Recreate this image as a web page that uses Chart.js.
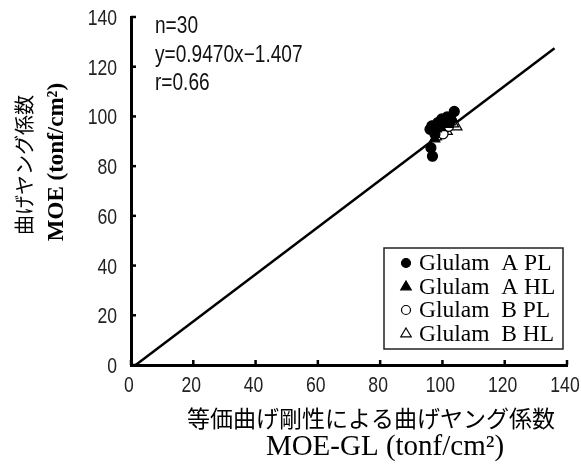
<!DOCTYPE html>
<html lang="ja">
<head>
<meta charset="utf-8">
<title>MOE vs MOE-GL</title>
<script src="https://cdn.jsdelivr.net/npm/chart.js"></script>
<style>
  html, body { margin: 0; padding: 0; background: #fff; }
  canvas { display: block; }
</style>
</head>
<body>
<canvas id="moeChart" width="581" height="465"></canvas>
<script>
// values: [MOE-GL, MOE]
const seriesNames = ['Glulam  A PL', 'Glulam  A HL', 'Glulam  B PL', 'Glulam  B HL'];
const glulamAPL = [[103.8, 102], [101.5, 99.8], [99.8, 99], [102.8, 98.5], [98.5, 97.5],
                   [96.6, 96.2], [96, 94.8], [97.6, 92.8], [96.3, 87.4], [96.8, 84]];
const glulamAHL = [[100.5, 97.5], [101.8, 96.8], [99.5, 95.5], [103, 99.5], [98, 95],
                   [97.5, 91], [100.8, 98.8], [102.5, 97.8]];
const glulamBPL = [[98.6, 96.2], [99.8, 94.8], [101, 95.5], [98.2, 93.5], [100.2, 93], [102, 96]];
const glulamBHL = [[104.6, 95.8], [103.5, 97], [99, 92.5], [101.5, 94], [100, 96.5], [98, 91.8]];
const fitLine = [[1.5, 0], [136, 127.4]];
const tickValues = [0, 20, 40, 60, 80, 100, 120, 140];
const statsText = ['n=30', 'y=0.9470x\u22121.407', 'r=0.66'];
const xTitle = ['等価曲げ剛性による曲げヤング係数', 'MOE-GL (tonf/cm\u00b2)'];
const yTitle = ['曲げヤング係数', 'MOE (tonf/cm\u00b2)'];

const sans = "'Liberation Sans', Arial, sans-serif";
const serif = "'Liberation Serif', 'DejaVu Serif', serif";
const cjk = "'Noto Sans CJK JP', sans-serif";

const toXY = arr => arr.map(p => ({ x: p[0], y: p[1] }));

const markers = [
  { style: 'circle', fill: '#000', r: 5 },
  { style: 'triangle', fill: '#000', r: 6 },
  { style: 'circle', fill: '#fff', r: 5 },
  { style: 'triangle', fill: '#fff', r: 6 }
];
const seriesData = [glulamAPL, glulamAHL, glulamBPL, glulamBHL];

const datasets = seriesData.map((d, i) => ({
  label: seriesNames[i],
  data: toXY(d),
  pointStyle: markers[i].style,
  pointRadius: markers[i].r,
  backgroundColor: markers[i].fill,
  borderColor: '#000',
  borderWidth: 1.2
}));
datasets.push({
  label: 'fit',
  data: toXY(fitLine),
  showLine: true,
  pointRadius: 0,
  borderColor: '#000',
  borderWidth: 2.5
});

function drawMarker(ctx, m, x, y, r) {
  ctx.beginPath();
  if (m.style === 'circle') {
    ctx.arc(x, y, r, 0, Math.PI * 2);
  } else {
    ctx.moveTo(x, y - r);
    ctx.lineTo(x + r * 0.95, y + r * 0.6);
    ctx.lineTo(x - r * 0.95, y + r * 0.6);
    ctx.closePath();
  }
  ctx.fillStyle = m.fill;
  ctx.fill();
  ctx.lineWidth = 1.2;
  ctx.strokeStyle = '#000';
  ctx.stroke();
}

// condensed text, the scan uses a narrow gothic face
function narrowText(ctx, text, x, y, sx) {
  ctx.save();
  ctx.translate(x, y);
  ctx.scale(sx, 1);
  ctx.fillText(text, 0, 0);
  ctx.restore();
}

const decorPlugin = {
  id: 'decor',
  afterDraw(chart) {
    const { ctx, chartArea, scales } = chart;
    ctx.save();

    // inward ticks
    ctx.strokeStyle = '#000';
    ctx.lineWidth = 2.5;
    tickValues.forEach(v => {
      const px = scales.x.getPixelForValue(v);
      ctx.beginPath();
      ctx.moveTo(px, chartArea.bottom);
      ctx.lineTo(px, chartArea.bottom - 5);
      ctx.stroke();
      const py = scales.y.getPixelForValue(v);
      ctx.beginPath();
      ctx.moveTo(chartArea.left, py);
      ctx.lineTo(chartArea.left + 5, py);
      ctx.stroke();
    });

    // tick labels
    ctx.fillStyle = '#222';
    ctx.font = '22px ' + sans;
    ctx.textBaseline = 'middle';
    ctx.textAlign = 'center';
    scales.x.ticks.forEach(t => {
      narrowText(ctx, String(t.value), scales.x.getPixelForValue(t.value) - 2, chartArea.bottom + 21, 0.8);
    });
    ctx.textAlign = 'right';
    scales.y.ticks.forEach(t => {
      narrowText(ctx, String(t.value), chartArea.left - 14, scales.y.getPixelForValue(t.value) + 2, 0.8);
    });

    // regression stats
    ctx.fillStyle = '#111';
    ctx.font = '23px ' + sans;
    ctx.textAlign = 'left';
    statsText.forEach((t, i) => narrowText(ctx, t, 155, 27 + i * 28.5, 0.83));

    // legend
    ctx.lineWidth = 1.5;
    ctx.strokeStyle = '#222';
    ctx.strokeRect(384, 248, 179, 101);
    ctx.font = '23.5px ' + serif;
    seriesNames.forEach((name, i) => {
      const y = 263 + i * 23.5;
      drawMarker(ctx, markers[i], 406, y, markers[i].r - 0.5);
      ctx.fillStyle = '#000';
      ctx.fillText(name, 419, y + 1);
    });

    // axis titles
    ctx.textAlign = 'center';
    ctx.fillStyle = '#000';
    ctx.font = '23px ' + cjk;
    ctx.fillText(xTitle[0], 371, 418);
    ctx.font = '29px ' + serif;
    ctx.fillText(xTitle[1], 385, 447);

    ctx.save();
    ctx.translate(24, 165);
    ctx.rotate(-Math.PI / 2);
    ctx.font = '20px ' + cjk;
    ctx.fillText(yTitle[0], 0, 0);
    ctx.restore();
    ctx.save();
    ctx.translate(57, 162);
    ctx.rotate(-Math.PI / 2);
    ctx.font = 'bold 23px ' + serif;
    ctx.fillText(yTitle[1], 0, 0);
    ctx.restore();

    ctx.restore();
  }
};

const axisBase = {
  type: 'linear',
  min: 0,
  max: 140,
  grid: { display: false },
  border: { display: true, color: '#000', width: 3 }
};

new Chart(document.getElementById('moeChart').getContext('2d'), {
  type: 'scatter',
  data: { datasets: datasets },
  options: {
    responsive: false,
    animation: false,
    layout: { padding: { top: 17, right: 14, left: 0, bottom: 0 } },
    scales: {
      x: Object.assign({}, axisBase, {
        ticks: { stepSize: 20, display: false },
        afterFit: s => { s.height = 100; }
      }),
      y: Object.assign({}, axisBase, {
        ticks: { stepSize: 20, display: false },
        afterFit: s => { s.width = 131; }
      })
    },
    plugins: {
      legend: { display: false },
      tooltip: { enabled: false }
    }
  },
  plugins: [decorPlugin]
});
</script>
</body>
</html>
